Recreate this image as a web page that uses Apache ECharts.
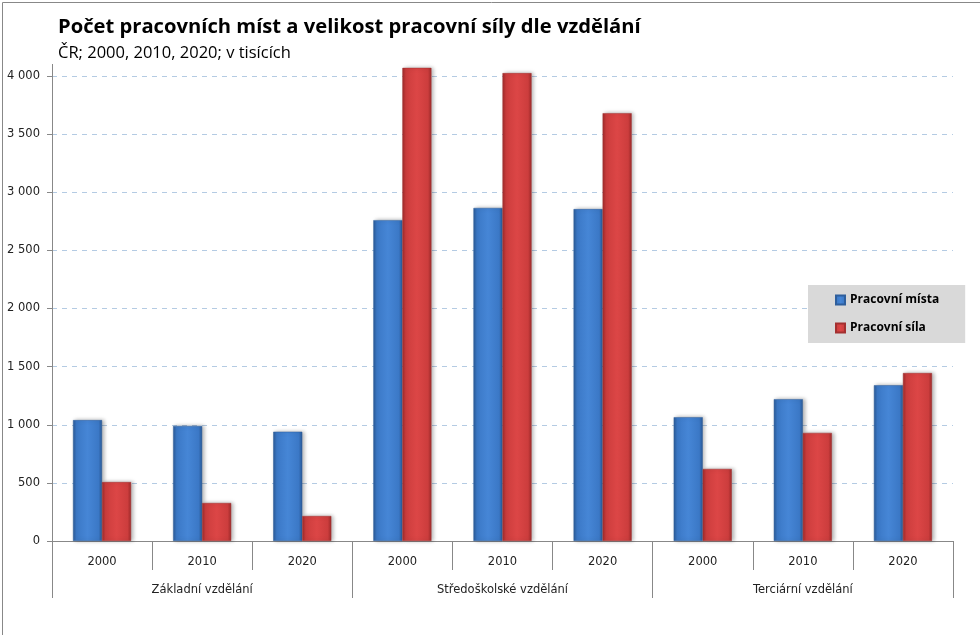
<!DOCTYPE html>
<html><head><meta charset="utf-8">
<script src="https://cdn.jsdelivr.net/npm/echarts@6/dist/echarts.min.js"></script>
<style>html,body{margin:0;padding:0;background:#fff}#c{width:980px;height:635px}</style>
</head><body><div id="c"></div>
<script>
const years = ['2000','2010','2020','2000','2010','2020','2000','2010','2020'];
const groups = ['Základní vzdělání','Středoškolské vzdělání','Terciární vzdělání'];
const seriesNames = ['Pracovní místa','Pracovní síla'];
const jobs = [1040, 990, 940, 2760, 2865, 2855, 1065, 1220, 1340];
const labour = [507, 327, 215, 4070, 4025, 3680, 620, 930, 1445];
const yTicks = [0, 500, 1000, 1500, 2000, 2500, 3000, 3500, 4000];

function grad(edge, mid, light) {
  return new echarts.graphic.LinearGradient(0,0,1,0,[
    {offset:0,color:edge},{offset:0.12,color:mid},{offset:0.5,color:light},{offset:0.88,color:mid},{offset:1,color:edge}]);
}
const blue = grad('#2b5a96','#3b78c6','#4686d6');
const red = grad('#9e2b2b','#cc3d3d','#dc4646');

const chart = echarts.init(document.getElementById('c'));
const font = 'DejaVu Sans';
chart.setOption({
  animation:false,
  textStyle:{fontFamily:font},
  title:{text:'Počet pracovních míst a velikost pracovní síly dle vzdělání',
    subtext:'ČR; 2000, 2010, 2020; v tisících', left:53, top:12, itemGap:8,
    textStyle:{fontFamily:'Open Sans',fontWeight:'bold',fontSize:20.2,color:'#000'},
    subtextStyle:{fontFamily:'Open Sans',fontSize:16.5,color:'#000'}},
  legend:{orient:'vertical',left:808,top:285,width:158,backgroundColor:'#d9d9d9',
    padding:[9,26,9,27],itemGap:16,itemWidth:9,itemHeight:9,icon:'rect',
    textStyle:{fontFamily:'Open Sans',fontWeight:'bold',fontSize:12,color:'#000'},
    data:seriesNames},
  grid:{left:52,right:27,top:76,bottom:94,containLabel:false},
  xAxis:[
    {type:'category',data:years,position:'bottom',
      axisLine:{lineStyle:{color:'#888'}},
      axisTick:{show:true,length:29,interval:0,lineStyle:{color:'#888'}},
      axisLabel:{interval:0,margin:15,fontSize:11.5,color:'#222',fontFamily:font}},
    {type:'category',data:groups,position:'bottom',offset:0,
      axisLine:{show:true,lineStyle:{color:'#888'}},
      axisTick:{show:true,length:57,interval:0,lineStyle:{color:'#888'}},
      axisLabel:{interval:0,margin:43,fontSize:11.5,color:'#222',fontFamily:font}}
  ],
  yAxis:{type:'value',min:yTicks[0],max:yTicks[yTicks.length-1],interval:500,
    axisLine:{show:true,lineStyle:{color:'#888'}},
    axisTick:{show:true,length:5,lineStyle:{color:'#888'}},
    axisLabel:{margin:12,fontSize:11.5,color:'#222',fontFamily:font,
      formatter:v=>String(v).replace(/\B(?=(\d{3})+(?!\d))/g,' ')},
    splitLine:{lineStyle:{color:'#b4cbe3',type:[5,5]}}},
  series:[
    {name:seriesNames[0],type:'bar',data:jobs,barGap:'0%',barCategoryGap:'42%',clip:false,
      itemStyle:{color:blue,borderColor:'#2f5f9c',borderWidth:0.5,shadowColor:'rgba(0,0,0,0.3)',shadowBlur:4,shadowOffsetX:2,shadowOffsetY:0}},
    {name:seriesNames[1],type:'bar',data:labour,clip:false,
      itemStyle:{color:red,borderColor:'#a33030',borderWidth:0.5,shadowColor:'rgba(0,0,0,0.3)',shadowBlur:4,shadowOffsetX:2,shadowOffsetY:0}}
  ],
  graphic:[
    {type:'line',shape:{x1:52.5,y1:64,x2:52.5,y2:76},style:{stroke:'#888',lineWidth:1},silent:true},
    {type:'rect',left:0,top:0,shape:{x:0.5,y:0.5,width:978,height:633},style:{fill:'none',stroke:'#888',lineWidth:1},silent:true}]
});
</script></body></html>
